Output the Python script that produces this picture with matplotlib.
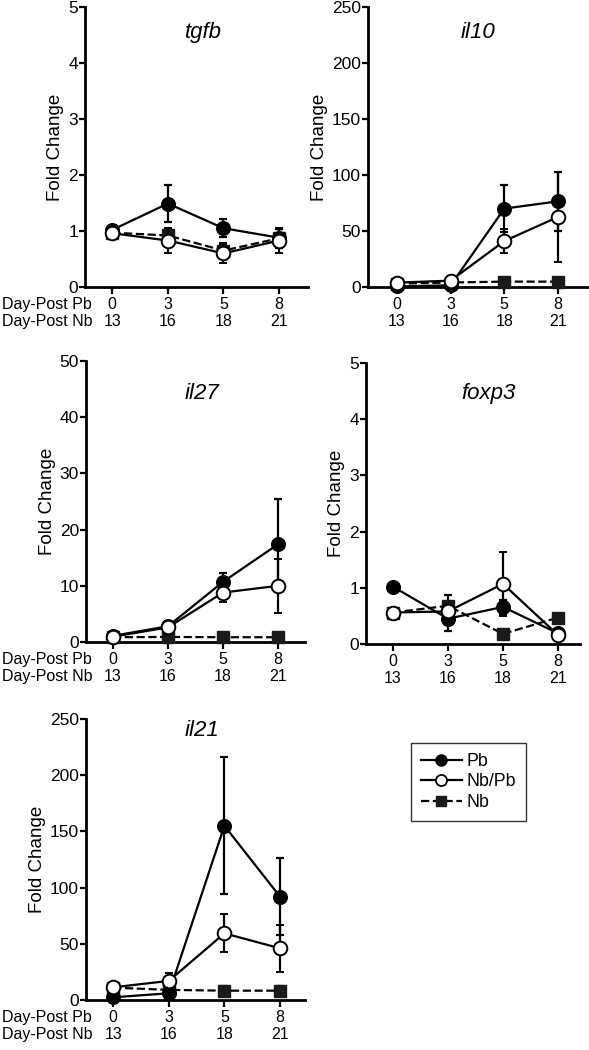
import matplotlib
matplotlib.use("Agg")
import matplotlib.pyplot as plt
import matplotlib.transforms as mtransforms
from matplotlib.lines import Line2D

plt.rcParams['font.family'] = ['Liberation Sans', 'DejaVu Sans']

# ---------------- data ----------------
day_post_pb = ["0", "3", "5", "8"]
day_post_nb = ["13", "16", "18", "21"]
series_names = ["Pb", "Nb/Pb", "Nb"]

tgfb_pb = [1.02, 1.49, 1.05, 0.88]
tgfb_pb_err = [0.05, 0.33, 0.16, 0.15]
tgfb_nbpb = [0.96, 0.83, 0.60, 0.83]
tgfb_nbpb_err = [0.06, 0.23, 0.18, 0.23]
tgfb_nb = [0.97, 0.92, 0.65, 0.87]
tgfb_nb_err = [0.05, 0.10, 0.10, 0.17]

il10_pb = [0.5, 1.5, 70.0, 76.5]
il10_pb_err = [0.5, 0.5, 21.0, 26.5]
il10_nbpb = [3.9, 5.7, 41.0, 62.5]
il10_nbpb_err = [0.8, 0.8, 11.0, 40.5]
il10_nb = [3.0, 4.0, 4.8, 4.8]
il10_nb_err = [0.5, 0.5, 1.0, 1.0]

il27_pb = [1.1, 2.8, 10.7, 17.4]
il27_pb_err = [0.2, 0.4, 1.5, 8.0]
il27_nbpb = [0.95, 2.6, 8.8, 10.0]
il27_nbpb_err = [0.1, 1.1, 1.6, 4.8]
il27_nb = [0.85, 0.9, 0.85, 0.85]
il27_nb_err = [0.1, 0.1, 0.1, 0.1]

foxp3_pb = [1.02, 0.45, 0.66, 0.19]
foxp3_pb_err = [0.03, 0.21, 0.13, 0.04]
foxp3_nbpb = [0.56, 0.58, 1.07, 0.16]
foxp3_nbpb_err = [0.03, 0.05, 0.57, 0.03]
foxp3_nb = [0.56, 0.68, 0.18, 0.47]
foxp3_nb_err = [0.03, 0.20, 0.03, 0.03]

il21_pb = [2.4, 6.0, 155.0, 92.0]
il21_pb_err = [1.0, 2.0, 61.0, 34.6]
il21_nbpb = [11.3, 17.0, 59.3, 46.0]
il21_nbpb_err = [1.0, 7.0, 17.0, 21.0]
il21_nb = [11.0, 9.0, 8.3, 8.3]
il21_nb_err = [1.0, 4.0, 4.0, 4.0]

genes = ["tgfb", "il10", "il27", "foxp3", "il21"]
ymaxes = [5, 250, 50, 5, 250]
ysteps = [1, 50, 10, 1, 50]

panel_data = {
    "tgfb": (tgfb_pb, tgfb_pb_err, tgfb_nbpb, tgfb_nbpb_err, tgfb_nb, tgfb_nb_err),
    "il10": (il10_pb, il10_pb_err, il10_nbpb, il10_nbpb_err, il10_nb, il10_nb_err),
    "il27": (il27_pb, il27_pb_err, il27_nbpb, il27_nbpb_err, il27_nb, il27_nb_err),
    "foxp3": (foxp3_pb, foxp3_pb_err, foxp3_nbpb, foxp3_nbpb_err, foxp3_nb, foxp3_nb_err),
    "il21": (il21_pb, il21_pb_err, il21_nbpb, il21_nbpb_err, il21_nb, il21_nb_err),
}

# ---------------- layout (pixels) ----------------
W, H = 589, 1050
fig = plt.figure(figsize=(W / 100, H / 100), dpi=100)

# left, right, top, bottom in pixels; xlim; show row labels; title pos
layout = {
    "tgfb": (85, 308, 7, 287, (-0.49, 3.52), True, (0.53, 0.91)),
    "il10": (368, 588, 7, 287, (-0.54, 3.56), False, (0.50, 0.91)),
    "il27": (86, 305, 361, 642, (-0.49, 3.49), True, (0.53, 0.886)),
    "foxp3": (366, 580, 363, 644, (-0.49, 3.40), False, (0.57, 0.893)),
    "il21": (86, 305, 719, 1000, (-0.49, 3.45), True, (0.53, 0.96)),
}

XT_FS = 11.5
YT_FS = 12.5
LW = 1.6
MS = 9.8

x = list(range(len(day_post_pb)))
xticklabels = [f"{a}\n{b}" for a, b in zip(day_post_pb, day_post_nb)]

for gene, ymax, ystep in zip(genes, ymaxes, ysteps):
    l, r, t, b, xl, rowlab, tpos = layout[gene]
    ax = fig.add_axes([l / W, 1 - b / H, (r - l) / W, (b - t) / H])
    pb, pbe, nbpb, nbpbe, nb, nbe = panel_data[gene]

    common = dict(color="black", ecolor="black", elinewidth=LW, capsize=3,
                  capthick=LW, lw=LW, clip_on=False)
    e1 = ax.errorbar(x, nb, yerr=nbe, fmt="s", ls="--", ms=MS - 1.5,
                     mfc="#1a1a1a", mec="#1a1a1a", zorder=3, **common)
    e2 = ax.errorbar(x, pb, yerr=pbe, fmt="o", ls="-", ms=MS,
                     mfc="black", mec="black", zorder=4, **common)
    e3 = ax.errorbar(x, nbpb, yerr=nbpbe, fmt="o", ls="-", ms=MS,
                     mfc="white", mec="black", mew=1.4, zorder=5, **common)
    for e in (e1, e2, e3):
        for c in e.get_children():
            c.set_clip_on(False)

    ax.set_xlim(*xl)
    ax.set_ylim(0, ymax)
    ax.set_yticks(range(0, ymax + 1, ystep))
    ax.set_xticks(x)
    ax.set_xticklabels(xticklabels, fontsize=XT_FS, linespacing=1.15)
    ax.tick_params(axis="y", labelsize=YT_FS, length=4, width=LW, pad=1.0)
    ax.tick_params(axis="x", length=5, width=LW, pad=2)
    for s in ("top", "right"):
        ax.spines[s].set_visible(False)
    for s in ("left", "bottom"):
        ax.spines[s].set_linewidth(2.0)
    ax.set_ylabel("Fold Change", fontsize=13.5, labelpad=3)
    ax.text(tpos[0], tpos[1], gene, transform=ax.transAxes, ha="center",
            va="center", fontsize=16, style="italic")

    if rowlab:
        trans = mtransforms.blended_transform_factory(fig.transFigure, ax.transAxes)
        trans = mtransforms.offset_copy(trans, fig=fig, x=0, y=-(5 + 2), units="points")
        ax.text(2 / W, 0, "Day-Post Pb\nDay-Post Nb", transform=trans,
                ha="left", va="top", fontsize=XT_FS, linespacing=1.15,
                multialignment="left")

# ---------------- legend ----------------
handles = [
    Line2D([], [], color="black", lw=LW, marker="o", ms=8, mfc="black", mec="black"),
    Line2D([], [], color="black", lw=LW, marker="o", ms=8, mfc="white", mec="black", mew=1.3),
    Line2D([], [], color="black", lw=LW, ls="--", marker="s", ms=7, mfc="#1a1a1a", mec="#1a1a1a"),
]
leg = fig.legend(handles, series_names, loc="upper left",
                 bbox_to_anchor=(411 / W, 1 - 743 / H), fontsize=12.8,
                 frameon=True, fancybox=False, edgecolor="black",
                 handlelength=2.3, handletextpad=0.3, labelspacing=0.2,
                 borderpad=0.55, borderaxespad=0)
leg.get_frame().set_linewidth(1.0)

fig.savefig("out.png", dpi=100)
